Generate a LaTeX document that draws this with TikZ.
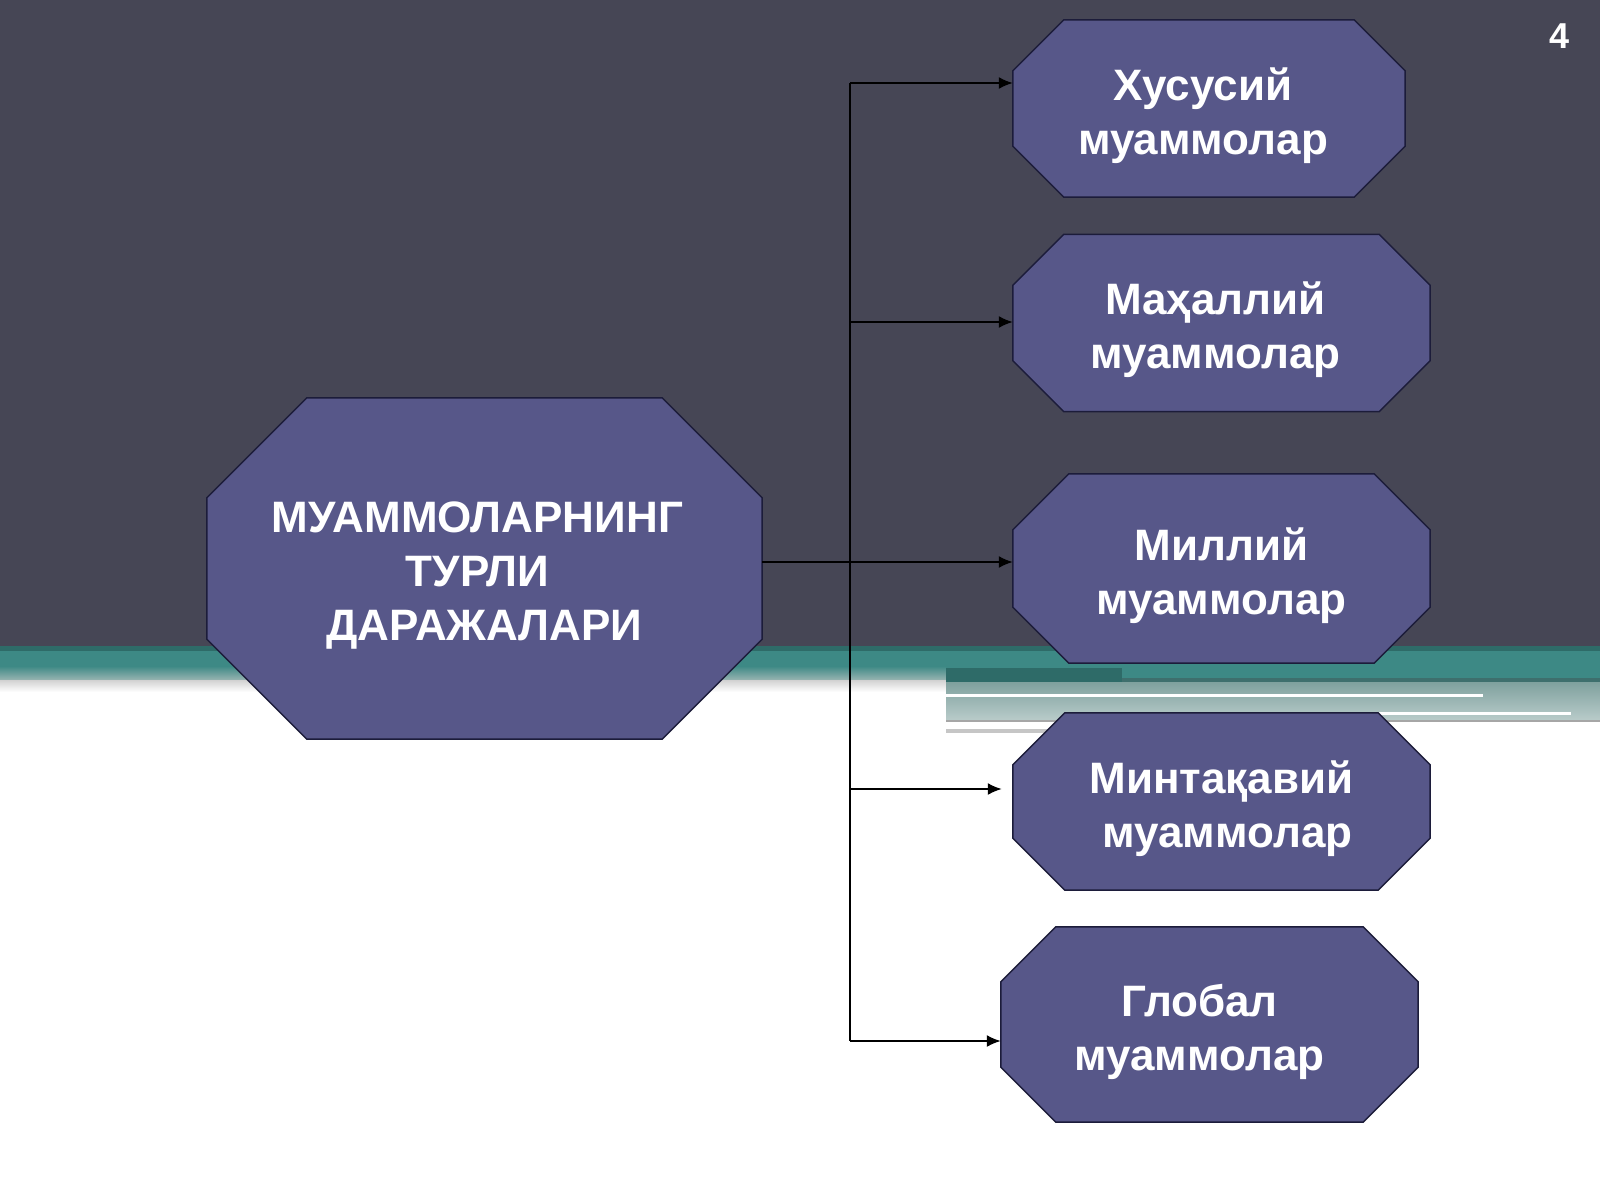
\documentclass[tikz,border=0pt]{standalone}
\usepackage{fontspec}
\setmainfont{Liberation Sans}
\usetikzlibrary{positioning, calc, arrows.meta, backgrounds}
\definecolor{slide}{HTML}{464655}
\definecolor{octfill}{HTML}{575789}
\definecolor{octline}{HTML}{1C1C3A}
\definecolor{tealA}{HTML}{2E6B68}
\definecolor{tealB}{HTML}{3D8985}
\definecolor{grayteal}{HTML}{7FA19E}
\tikzstyle{Level} = [
inner sep=0pt]
\tikzstyle{Text} = [
inner sep=0pt,
align=center,
text=white,
font=\bfseries\fontsize{44}{54}\selectfont]
\tikzstyle{Arrow} = [
line width=1.8pt,
-{Latex[length=14pt, width=12pt]}]

\begin{document}
\begin{tikzpicture}[x=1pt, y=-1pt]
    \useasboundingbox (0,0) rectangle (1600,1200);
    \node (1) [Level, minimum width=555pt, minimum height=341pt] at (484.5,568.5) {};
    \node (2) [Level, minimum width=392pt, minimum height=177pt] at (1209,108.5) {};
    \node (3) [Level, minimum width=417pt, minimum height=177pt] at (1221.5,323) {};
    \node (4) [Level, minimum width=417pt, minimum height=189pt] at (1221.5,568.5) {};
    \node (5) [Level, minimum width=417pt, minimum height=177pt] at (1221.5,801.5) {};
    \node (6) [Level, minimum width=417pt, minimum height=195pt] at (1209.5,1024.5) {};
    \node (1t) [Text, xshift=-7pt, yshift=-7pt] at (1) {МУАММОЛАРНИНГ\\ТУРЛИ\\\hspace*{14pt}ДАРАЖАЛАРИ};
    \node (2t) [Text, xshift=-6pt, yshift=-7pt] at (2) {Хусусий\\муаммолар};
    \node (3t) [Text, xshift=-6pt, yshift=-7pt] at (3) {Маҳаллий\\муаммолар};
    \node (4t) [Text, yshift=-7pt] at (4) {Миллий\\муаммолар};
    \node (5t) [Text, yshift=-7pt] at (5) {Минтақавий\\\hspace*{12pt}муаммолар};
    \node (6t) [Text, xshift=-10pt, yshift=-7pt] at (6) {Глобал\\муаммолар};
    \node (7) [text=white, font=\bfseries\fontsize{36}{42}\selectfont] at (1559,36) {4};
    % trunk points
    \coordinate (t2) at (850,83);
    \coordinate (t3) at (850,322);
    \coordinate (t4) at (850,562);
    \coordinate (t5) at (850,789);
    \coordinate (t6) at (850,1041);
    \draw[line width=1.8pt] (t2) -- (t6);
    \draw[line width=1.8pt] (t4 -| 1.east) -- (t4);
    \draw[Arrow] (t2) -- (t2 -| 2.west);
    \draw[Arrow] (t3) -- (t3 -| 3.west);
    \draw[Arrow] (t4) -- (t4 -| 4.west);
    \draw[Arrow, shorten >=11pt] (t5) -- (t5 -| 5.west);
    \draw[Arrow] (t6) -- (t6 -| 6.west);
    \begin{scope}[on background layer]
        % slide
        \fill[white] (0,0) rectangle (1600,1200);
        \fill[slide] (0,0) rectangle (1600,646);
        \fill[tealA] (0,646) rectangle (1600,651);
        \fill[tealB] (0,651) rectangle (1600,666);
        \shade[top color=tealB, bottom color=grayteal!80!white] (0,666) rectangle (946,680);
        \shade[top color=black!18, bottom color=white] (0,680) rectangle (946,692);
        \fill[tealB] (946,666) rectangle (1600,678);
        \fill[tealA] (946,668) rectangle (1122,682);
        \fill[tealA!80!gray] (1122,678) rectangle (1600,682);
        \shade[top color=grayteal, bottom color=grayteal!55!white] (946,682) rectangle (1600,720);
        \fill[white] (946,694) rectangle (1483,697);
        \fill[white] (1290,712) rectangle (1571,715);
        \draw[gray!70, line width=1.5pt] (946,721) -- (1600,721);
        \draw[gray!45, line width=4pt] (946,731) -- (1100,731);
        % octagons
        \foreach \n/\c in {1/100, 2/51, 3/51, 4/56, 5/52, 6/55}
            \filldraw[fill=octfill, draw=octline, line width=1.5pt]
                ($(\n.north west)+(\c,0)$) -- ($(\n.north east)+(-\c,0)$) --
                ($(\n.north east)+(0,\c)$) -- ($(\n.south east)+(0,-\c)$) --
                ($(\n.south east)+(-\c,0)$) -- ($(\n.south west)+(\c,0)$) --
                ($(\n.south west)+(0,-\c)$) -- ($(\n.north west)+(0,\c)$) -- cycle;
    \end{scope}
\end{tikzpicture}
\end{document}
